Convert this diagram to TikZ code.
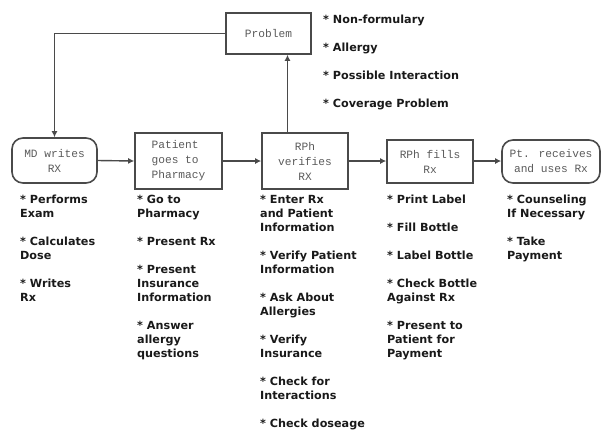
\documentclass[tikz,border=0pt]{standalone}
\usepackage{fontspec}
\usetikzlibrary{arrows.meta,calc}
\newfontfamily\boxfont{Liberation Mono}
\newfontfamily\listfont{DejaVu Sans}[BoldFont={DejaVu Sans Bold}]
\definecolor{linec}{HTML}{4A4A4A}
\definecolor{boxtext}{HTML}{5A5A5A}
\begin{document}
\begin{tikzpicture}[x=1pt,y=-1pt,
  stepbox/.style={draw=linec,line width=1.6pt,inner sep=0pt,align=center,
    font=\boxfont\fontsize{11.2}{15}\selectfont,text=boxtext},
  roundbox/.style={stepbox,rounded corners=11pt},
  itemlist/.style={anchor=north west,inner sep=0pt,align=left,
    font=\listfont\bfseries\fontsize{11.2}{14}\selectfont,text=black!90},
  conn/.style={draw=linec,line width=1.4pt,-{Latex[length=6pt,width=6pt]}}
]
\useasboundingbox (0,0) rectangle (602,432);

% boxes
\node[stepbox,minimum width=85pt,minimum height=41pt] (prob) at (268.5,33.5) {Problem};
\node[roundbox,minimum width=85pt,minimum height=45pt] (md) at (54.5,160.5) {MD writes\\RX};
\node[stepbox,minimum width=87pt,minimum height=56pt,align=left] (pat) at (178.5,161) {Patient\\goes to\\Pharmacy};
\node[stepbox,minimum width=86pt,minimum height=56pt] (ver) at (305,161) {RPh\\verifies\\RX};
\node[stepbox,minimum width=86pt,minimum height=43pt] (fill) at (430,161.5) {RPh fills\\Rx};
\node[roundbox,minimum width=98pt,minimum height=43pt] (pt) at (551,161.5) {Pt. receives\\and uses Rx};

% connectors
\draw[conn] (md.east) -- (pat.west);
\draw[conn] (pat.east) -- (ver.west);
\draw[conn] (ver.east) -- (ver.east -| fill.west);
\draw[conn] (fill.east |- ver.east) -- (pt.west |- ver.east);
\coordinate (vtop) at ($(ver.north west)!0.3!(ver.north east)$);
\draw[conn] (vtop) -- (vtop |- prob.south);
\draw[conn] (prob.west) -| (md.north);

% lists
\node[itemlist] (lprob) at (323,15) {* Non-formulary\\[14pt]* Allergy\\[14pt]* Possible Interaction\\[14pt]* Coverage Problem};
\node[itemlist] (lmd) at (20,195) {* Performs\\Exam\\[14pt]* Calculates\\Dose\\[14pt]* Writes\\Rx};
\node[itemlist] (lpat) at (137,195) {* Go to\\Pharmacy\\[14pt]* Present Rx\\[14pt]* Present\\Insurance\\Information\\[14pt]* Answer\\allergy\\questions};
\node[itemlist] (lver) at (260,195) {* Enter Rx\\and Patient\\Information\\[14pt]* Verify Patient\\Information\\[14pt]* Ask About\\Allergies\\[14pt]* Verify\\Insurance\\[14pt]* Check for\\Interactions\\[14pt]* Check doseage};
\node[itemlist] (lfill) at (387,195) {* Print Label\\[14pt]* Fill Bottle\\[14pt]* Label Bottle\\[14pt]* Check Bottle\\Against Rx\\[14pt]* Present to\\Patient for\\Payment};
\node[itemlist] (lpt) at (507,195) {* Counseling\\If Necessary\\[14pt]* Take\\Payment};
\end{tikzpicture}
\end{document}
